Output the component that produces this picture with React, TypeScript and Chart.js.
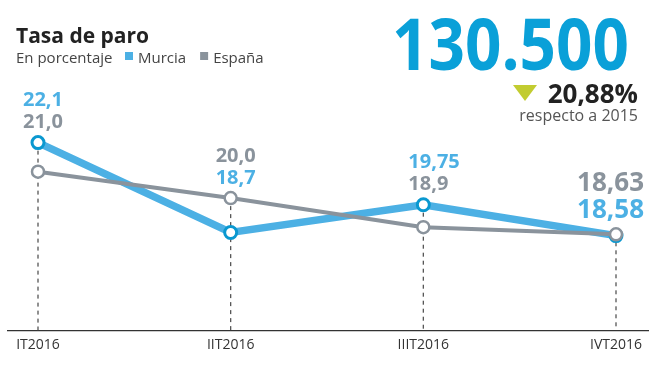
import React, { useEffect, useRef } from "react";
import { Chart, registerables } from "chart.js";

Chart.register(...registerables);

const categories = ["IT2016", "IIT2016", "IIIT2016", "IVT2016"];
const murciaValues = [22.1, 18.7, 19.75, 18.58];
const espanaValues = [21.0, 20.0, 18.9, 18.63];
const murciaLabels = ["22,1", "18,7", "19,75", "18,58"];
const espanaLabels = ["21,0", "20,0", "18,9", "18,63"];
const seriesNames = ["Murcia", "España"];
const titleText = "Tasa de paro";
const subtitleText = "En porcentaje";
const bigNumber = "130.500";
const changeText = "20,88%";
const changeNote = "respecto a 2015";

const MURCIA_LINE = "#4cb0e4";
const MURCIA_POINT = "#0a98d0";
const ESPANA = "#8a939c";
const FONT = "'Open Sans', sans-serif";

const overlayPlugin = {
  id: "overlay",
  beforeDatasetsDraw(chart: any) {
    const ctx = chart.ctx;
    const x = chart.scales.x;
    const y = chart.scales.y;
    const bottom = chart.chartArea.bottom;
    ctx.save();
    ctx.strokeStyle = "#333";
    ctx.lineWidth = 1.2;
    ctx.beginPath();
    ctx.moveTo(7, bottom + 0.5);
    ctx.lineTo(649, bottom + 0.5);
    ctx.stroke();
    ctx.strokeStyle = "#555";
    ctx.lineWidth = 1.3;
    ctx.setLineDash([4, 4]);
    categories.forEach((_, i) => {
      const px = x.getPixelForValue(i);
      const top = Math.min(y.getPixelForValue(murciaValues[i]), y.getPixelForValue(espanaValues[i]));
      ctx.beginPath();
      ctx.moveTo(px, top);
      ctx.lineTo(px, bottom);
      ctx.stroke();
    });
    ctx.restore();
  },
  afterDraw(chart: any) {
    const ctx = chart.ctx;
    const x = chart.scales.x;
    const y = chart.scales.y;
    ctx.save();
    ctx.fillStyle = "#222";
    ctx.textAlign = "left";
    ctx.textBaseline = "alphabetic";
    ctx.font = `bold 21px ${FONT}`;
    ctx.fillText(titleText, 16, 43);
    ctx.font = `15px ${FONT}`;
    ctx.fillStyle = "#444";
    ctx.fillText(subtitleText, 16, 63);
    let lx = 125;
    const colors = [MURCIA_LINE, ESPANA];
    seriesNames.forEach((name, i) => {
      ctx.fillStyle = colors[i];
      ctx.fillRect(lx, 52, 8, 8);
      ctx.fillStyle = "#444";
      ctx.fillText(name, lx + 13, 63);
      lx += 13 + ctx.measureText(name).width + 14;
    });
    ctx.textAlign = "right";
    ctx.fillStyle = "#0aa0d8";
    ctx.font = `bold 72px ${FONT}`;
    ctx.fillText(bigNumber, 629, 70, 237);
    ctx.fillStyle = "#c2cc30";
    ctx.beginPath();
    ctx.moveTo(513, 85);
    ctx.lineTo(537, 85);
    ctx.lineTo(525, 101);
    ctx.closePath();
    ctx.fill();
    ctx.fillStyle = "#222";
    ctx.font = `bold 26px ${FONT}`;
    ctx.fillText(changeText, 638, 103);
    ctx.fillStyle = "#555";
    ctx.font = `16px ${FONT}`;
    ctx.fillText(changeNote, 638, 121);
    categories.forEach((_, i) => {
      const px = x.getPixelForValue(i);
      const my = y.getPixelForValue(murciaValues[i]);
      const ey = y.getPixelForValue(espanaValues[i]);
      const top = Math.min(my, ey);
      const murciaFirst = murciaValues[i] >= espanaValues[i];
      const last = i === categories.length - 1;
      const first = murciaFirst ? { t: murciaLabels[i], c: MURCIA_LINE } : { t: espanaLabels[i], c: ESPANA };
      const second = murciaFirst ? { t: espanaLabels[i], c: ESPANA } : { t: murciaLabels[i], c: MURCIA_LINE };
      ctx.textBaseline = "middle";
      if (last) {
        ctx.font = `bold 26px ${FONT}`;
        ctx.textAlign = "right";
        ctx.fillStyle = first.c;
        ctx.fillText(first.t, px + 28, top - 51);
        ctx.fillStyle = second.c;
        ctx.fillText(second.t, px + 28, top - 24);
      } else {
        ctx.font = `bold 20px ${FONT}`;
        ctx.textAlign = "left";
        ctx.fillStyle = first.c;
        ctx.fillText(first.t, px - 15, top - 42);
        ctx.fillStyle = second.c;
        ctx.fillText(second.t, px - 15, top - 20);
      }
    });
    ctx.restore();
  },
};

export default function App() {
  const ref = useRef<HTMLCanvasElement>(null);
  useEffect(() => {
    if (!ref.current) return;
    const chart = new Chart(ref.current, {
      type: "line",
      data: {
        labels: categories,
        datasets: [
          {
            label: seriesNames[1],
            data: espanaValues,
            borderColor: ESPANA,
            borderWidth: 4,
            pointBackgroundColor: "#fff",
            pointBorderColor: ESPANA,
            pointBorderWidth: 2.5,
            pointRadius: 6,
            tension: 0,
          },
          {
            label: seriesNames[0],
            data: murciaValues,
            borderColor: MURCIA_LINE,
            borderWidth: 7.5,
            pointBackgroundColor: "#fff",
            pointBorderColor: MURCIA_POINT,
            pointBorderWidth: 3,
            pointRadius: 6,
            tension: 0,
          },
        ],
      },
      options: {
        responsive: false,
        animation: false,
        layout: { padding: { left: 38, right: 44, top: 66, bottom: 12 } },
        plugins: { legend: { display: false }, tooltip: { enabled: false } },
        scales: {
          x: {
            offset: false,
            grid: { display: false, drawTicks: false },
            border: { display: false },
            ticks: { color: "#333", font: { family: "'Open Sans', sans-serif", size: 14 }, padding: 6, maxRotation: 0, autoSkip: false },
          },
          y: { display: false, min: 15, max: 25 },
        },
      },
      plugins: [overlayPlugin],
    });
    return () => chart.destroy();
  }, []);
  return (
    <div style={{ position: "absolute", left: 0, top: 0, width: 660, height: 371, background: "#fff" }}>
      <canvas ref={ref} width={660} height={371} />
    </div>
  );
}
